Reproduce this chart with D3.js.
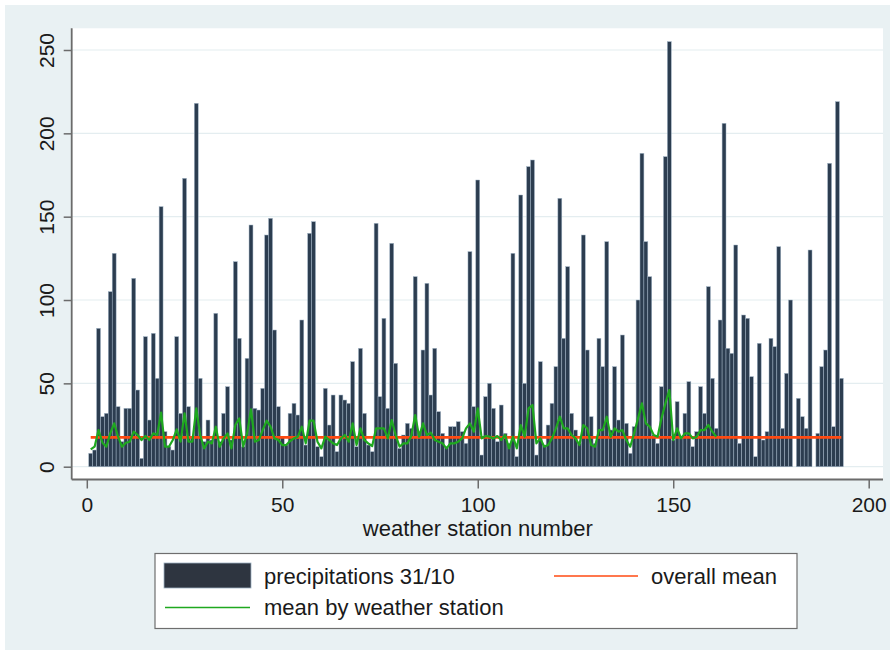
<!DOCTYPE html>
<html>
<head>
<meta charset="utf-8">
<script src="https://cdn.jsdelivr.net/npm/d3@7/dist/d3.min.js"></script>
<style>
  html, body { margin: 0; padding: 0; background: #ffffff; }
  svg { display: block; }
  text { font-family: "Liberation Sans", Arial, Helvetica, sans-serif; fill: #1a1a1a; }
</style>
</head>
<body>
<script>
// ---- data ----
// precipitation on 31/10 for weather stations 1..193 (null = missing)
const precip = [
  8, 10, 83, 30, 32, 105, 128, 36, 15, 35,
  35, 113, 46, 5, 78, 28, 80, 53, 156, 21,
  12, 10, 78, 32, 173, 36, 18, 218, 53, 15,
  28, 16, 92, 15, 32, 48, 16, 123, 77, 12,
  65, 145, 35, 34, 47, 139, 149, 82, 36, 18,
  13, 32, 38, 31, 88, 13, 140, 147, 12, 6,
  47, 25, 43, 9, 43, 40, 38, 63, 12, 71,
  32, 13, 9, 146, 42, 89, 35, 134, 62, 11,
  19, 26, 23, 114, 21, 70, 110, 43, 71, 33,
  20, 12, 24, 24, 27, 21, 14, 129, 36, 172,
  7, 42, 50, 35, 15, 37, 20, 14, 128, 6,
  163, 50, 180, 184, 7, 63, 13, 25, 38, 60,
  161, 77, 120, 32, 22, 14, 139, 70, 30, 14,
  77, 60, 135, 22, 60, 28, 79, 26, 8, 24,
  100, 188, 135, 114, 19, 14, 48, 186, 255, 16,
  39, 18, 32, 51, 12, 21, 48, 32, 108, 53,
  23, 88, 206, 71, 68, 133, 14, 91, 89, 54,
  6, 74, 16, 21, 77, 72, 132, 23, 56, 100,
  null, 41, 30, 23, 130, null, 20, 60, 70, 182,
  24, 219, 53
];
// mean by weather station (stations 1..161)
const stationMean = [
  10.4, 12, 22, 14.4, 12, 20, 26, 18, 12, 14.4,
  15, 21, 19, 16, 18.4, 16, 20, 19, 32.4, 12,
  12, 16, 22.4, 15, 32, 15, 15, 35, 19, 11,
  15, 14, 24, 12, 17, 20, 11, 25, 29, 12,
  20, 34.4, 15, 16, 22, 27.6, 24, 17, 16, 13,
  13, 15.4, 17, 18, 24, 14, 27.6, 27.6, 15, 11,
  18, 16, 14, 13, 17, 19, 15, 26, 13, 23,
  16, 14, 12.4, 23, 23, 23, 17, 28, 19, 12,
  14, 14, 18.4, 31, 18, 26, 19, 20.4, 16, 15,
  14, 11, 14, 14, 15, 17, 23, 26, 21, 35,
  17, 18.4, 18, 17, 18.4, 16, 19, 11, 18, 11,
  25, 18, 35, 37, 14, 17, 12, 13, 17, 23,
  30, 23, 23, 19, 17, 13, 25, 23, 13, 12,
  22, 22, 30, 18, 23, 21, 22, 16, 12, 20,
  29, 38, 26, 24, 19, 18, 29, 38, 46, 16,
  23, 17, 20, 20, 17, 18, 22, 22, 25, 21,
  18
];
const overallMean = 17.6;
const xTicks = [0, 50, 100, 150, 200];
const yTicks = [0, 50, 100, 150, 200, 250];
const xTitle = "weather station number";
const legendLabels = ["precipitations 31/10", "overall mean", "mean by weather station"];

// ---- layout ----
const W = 895, H = 655;
const plotL = 71.7, plotR = 883, plotT = 28.3, plotB = 479.5;
const colors = { bar: "#2c3d50", barEdge: "#9fb2c3", red: "#ff4a12", green: "#1fa81f",
                 bg: "#e9f1f3", grid: "#e4edf0", axis: "#6b6b6b" };

const svg = d3.select("body").append("svg").attr("width", W).attr("height", H);
svg.append("rect").attr("x", 0).attr("y", 0).attr("width", W).attr("height", H).attr("fill", "#ffffff");
svg.append("rect").attr("x", 5).attr("y", 5).attr("width", W - 10).attr("height", H - 10).attr("fill", colors.bg);
svg.append("rect").attr("x", plotL).attr("y", plotT).attr("width", plotR - plotL).attr("height", plotB - plotT).attr("fill", "#ffffff");

const x = d3.scaleLinear().domain([0, 200]).range([86.8, 868.7]);
const y = d3.scaleLinear().domain([0, 250]).range([466.7, 50]);

// gridlines
svg.append("g").selectAll("line").data(yTicks).join("line")
  .attr("x1", plotL).attr("x2", plotR)
  .attr("y1", d => y(d)).attr("y2", d => y(d))
  .attr("stroke", colors.grid).attr("stroke-width", 1.2);

// bars
const barData = precip.map((v, i) => ({ s: i + 1, v })).filter(d => d.v !== null);
svg.append("g").selectAll("rect").data(barData).join("rect")
  .attr("x", d => x(d.s - 0.5))
  .attr("width", d => x(d.s + 0.5) - x(d.s - 0.5))
  .attr("y", d => y(d.v))
  .attr("height", d => y(0) - y(d.v))
  .attr("fill", colors.bar)
  .attr("stroke", colors.barEdge)
  .attr("stroke-width", 0.5);

// overall mean line
const meanPts = precip.map((v, i) => ({ s: i + 1, v: overallMean }));
svg.append("path").datum(meanPts)
  .attr("d", d3.line().x(d => x(d.s)).y(d => y(d.v)))
  .attr("fill", "none").attr("stroke", colors.red).attr("stroke-width", 2.6);

// mean by weather station
const greenPts = stationMean.map((v, i) => ({ s: i + 1, v }));
svg.append("path").datum(greenPts)
  .attr("d", d3.line().x(d => x(d.s)).y(d => y(d.v)))
  .attr("fill", "none").attr("stroke", colors.green).attr("stroke-width", 2.2)
  .attr("stroke-linejoin", "round");

// y axis
const gy = svg.append("g").attr("transform", `translate(${plotL},0)`)
  .call(d3.axisLeft(y).tickValues(yTicks).tickSize(8).tickFormat(d3.format("d")));
gy.select(".domain").remove();
gy.selectAll(".tick line").attr("stroke", colors.axis).attr("stroke-width", 1.5);
gy.selectAll(".tick text")
  .attr("x", null).attr("dy", null)
  .attr("transform", "translate(-17.5,0) rotate(-90)")
  .attr("text-anchor", "middle")
  .attr("font-size", 21)
  .style("font-family", '"Liberation Sans", Arial, sans-serif')
  .attr("fill", "#1a1a1a");
svg.append("line").attr("x1", plotL).attr("x2", plotL).attr("y1", plotT).attr("y2", plotB)
  .attr("stroke", colors.axis).attr("stroke-width", 1.8);

// x axis
const gx = svg.append("g").attr("transform", `translate(0,${plotB})`)
  .call(d3.axisBottom(x).tickValues(xTicks).tickSize(9).tickFormat(d3.format("d")));
gx.select(".domain").remove();
gx.selectAll(".tick line").attr("stroke", colors.axis).attr("stroke-width", 1.5);
gx.selectAll(".tick text")
  .attr("y", 32).attr("dy", null)
  .attr("font-size", 21)
  .style("font-family", '"Liberation Sans", Arial, sans-serif')
  .attr("fill", "#1a1a1a");
svg.append("line").attr("x1", plotL).attr("x2", plotR).attr("y1", plotB).attr("y2", plotB)
  .attr("stroke", colors.axis).attr("stroke-width", 1.8);

svg.append("text").attr("x", (x(0) + x(200)) / 2).attr("y", 536)
  .attr("text-anchor", "middle").attr("font-size", 22).text(xTitle);

// legend
const lg = svg.append("g");
lg.append("rect").attr("x", 155).attr("y", 553.5).attr("width", 642).attr("height", 75)
  .attr("fill", "#ffffff").attr("stroke", "#6e6e6e").attr("stroke-width", 1.2);
lg.append("rect").attr("x", 164).attr("y", 563).attr("width", 87).attr("height", 25)
  .attr("fill", "#2e3540").attr("stroke", colors.barEdge).attr("stroke-width", 0.8);
lg.append("text").attr("x", 264).attr("y", 584).attr("font-size", 22).text(legendLabels[0]);
lg.append("line").attr("x1", 554).attr("x2", 638).attr("y1", 576).attr("y2", 576)
  .attr("stroke", colors.red).attr("stroke-width", 1.6);
lg.append("text").attr("x", 651).attr("y", 584).attr("font-size", 22).text(legendLabels[1]);
lg.append("line").attr("x1", 165).attr("x2", 250).attr("y1", 607.5).attr("y2", 607.5)
  .attr("stroke", colors.green).attr("stroke-width", 1.6);
lg.append("text").attr("x", 264).attr("y", 615).attr("font-size", 22).text(legendLabels[2]);
</script>
</body>
</html>
